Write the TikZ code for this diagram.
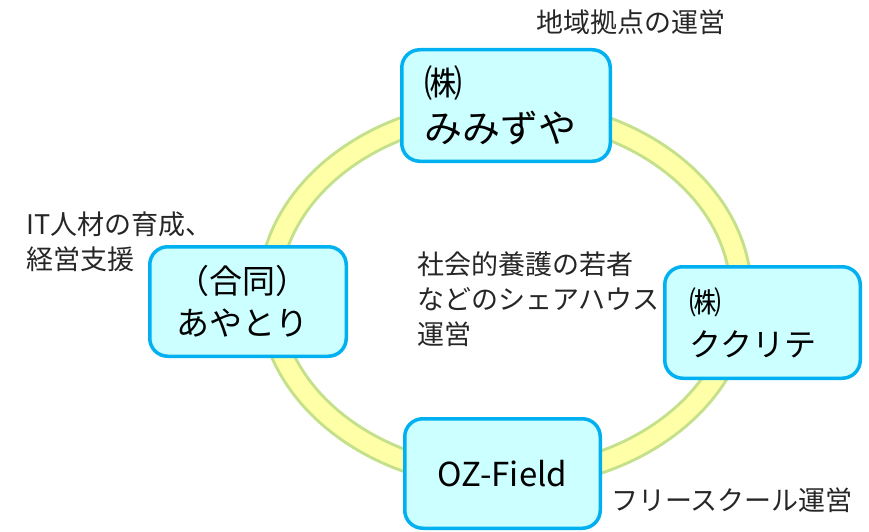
\documentclass[tikz,border=0pt]{standalone}
\usepackage{fontspec}
\setmainfont{Noto Sans CJK JP}
\definecolor{ringgreen}{RGB}{196, 224, 138}
\definecolor{ringyellow}{RGB}{255, 255, 168}
\definecolor{boxcyan}{RGB}{0, 176, 240}
\definecolor{boxfill}{RGB}{204, 255, 255}
\usetikzlibrary{positioning}
\tikzset{
    orgbox/.style={rectangle, rounded corners=18pt, draw=boxcyan, fill=boxfill, line width=3.5pt,
                   inner xsep=25pt, inner ysep=0pt, align=left, font=\fontsize{35}{45}\selectfont},
    rolelabel/.style={inner sep=0pt, align=left, anchor=north west, text=black!85,
                      font=\fontsize{27}{35}\selectfont},
}

\begin{document}
\begin{tikzpicture}[x=1pt, y=-1pt]
    \useasboundingbox (0, 0) rectangle (869, 532);
    % ring behind the boxes
    \coordinate (ringc) at (505, 294);
    \draw[ringgreen, line width=24pt] (ringc) ellipse [x radius=236pt, y radius=184pt];
    \draw[ringyellow, line width=18pt] (ringc) ellipse [x radius=236pt, y radius=184pt];

    \node[orgbox, font=\fontsize{38}{45}\selectfont, inner xsep=23pt, text width=162.5pt, minimum height=111.5pt] (mimizuya) at (506, 105.5) {㈱\\みみずや};
    \node[orgbox, font=\fontsize{33}{42}\selectfont, inner xsep=27pt, text width=142.5pt, minimum height=109.5pt] (ayatori) at (248, 301.5) {（合同）\\あやとり};
    \node[orgbox, font=\fontsize{32}{42}\selectfont, text width=145.5pt, minimum height=111.5pt] (kukurite) at (762.5, 322.5) {㈱\\ククリテ};
    \node[orgbox, font=\fontsize{33}{42}\selectfont, align=center, text width=145.5pt, minimum height=109.5pt] (ozfield) at (502.5, 473.5) {OZ-Field};

    \node[rolelabel] (hub) at (536, 10) {地域拠点の運営};
    \node[rolelabel] (itsupport) at (26, 212) {IT人材の育成、\\経営支援};
    \node[rolelabel] (sharehouse) at (417, 252) {社会的養護の若者\\などのシェアハウス\\運営};
    \node[rolelabel] (freeschool) at (611, 488) {フリースクール運営};
\end{tikzpicture}
\end{document}
